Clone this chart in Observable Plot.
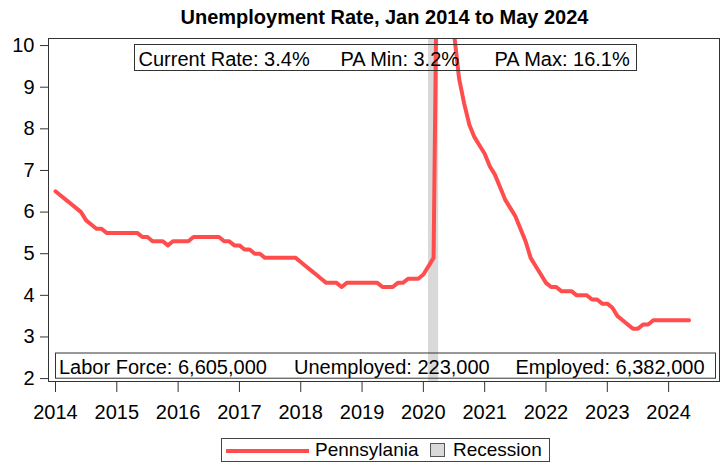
<!DOCTYPE html>
<html><head><meta charset="utf-8">
<script src="https://cdn.jsdelivr.net/npm/d3@7"></script>
<script src="https://cdn.jsdelivr.net/npm/@observablehq/plot@0.6"></script>
<style>
body{margin:0;background:#fff;font-family:"Liberation Sans",Arial,sans-serif;}
#wrap{position:relative;width:727px;height:466px;overflow:hidden;}
#title{position:absolute;left:0;top:0;width:685px;padding-left:42px;height:30px;line-height:30px;padding-top:2px;text-align:center;font-weight:bold;font-size:20px;color:#000;}
#chart{position:absolute;left:0;top:30px;}
#legend{position:absolute;left:221px;top:438px;width:327px;height:22px;border:1px solid #444;font-size:19px;color:#000;}
#legend .t{position:absolute;top:1px;line-height:19px;white-space:nowrap;}
</style></head><body>
<div id="wrap">
  <div id="title">Unemployment Rate, Jan 2014 to May 2024</div>
  <div id="chart"></div>
  <div id="legend">
    <div style="position:absolute;left:4px;top:10px;width:83px;height:4px;background:#ff4d4d"></div>
    <span class="t" style="left:93px">Pennsylania</span>
    <div style="position:absolute;left:208px;top:4px;width:13px;height:12px;background:#d9d9d9;border:1px solid #555"></div>
    <span class="t" style="left:231px">Recession</span>
  </div>
</div>
<script>
// Monthly unemployment rate (%), Pennsylvania, Jan 2014 - May 2024
const rate2014 = [6.5, 6.4, 6.3, 6.2, 6.1, 6.0, 5.8, 5.7, 5.6, 5.6, 5.5, 5.5];
const rate2015 = [5.5, 5.5, 5.5, 5.5, 5.5, 5.4, 5.4, 5.3, 5.3, 5.3, 5.2, 5.3];
const rate2016 = [5.3, 5.3, 5.3, 5.4, 5.4, 5.4, 5.4, 5.4, 5.4, 5.3, 5.3, 5.2];
const rate2017 = [5.2, 5.1, 5.1, 5.0, 5.0, 4.9, 4.9, 4.9, 4.9, 4.9, 4.9, 4.9];
const rate2018 = [4.8, 4.7, 4.6, 4.5, 4.4, 4.3, 4.3, 4.3, 4.2, 4.3, 4.3, 4.3];
const rate2019 = [4.3, 4.3, 4.3, 4.3, 4.2, 4.2, 4.2, 4.3, 4.3, 4.4, 4.4, 4.4];
const rate2020 = [4.5, 4.7, 4.9, 16.1, 13.5, 12.0, 10.3, 9.2, 8.6, 8.1, 7.8, 7.6];
const rate2021 = [7.4, 7.1, 6.9, 6.6, 6.3, 6.1, 5.9, 5.6, 5.3, 4.9, 4.7, 4.5];
const rate2022 = [4.3, 4.2, 4.2, 4.1, 4.1, 4.1, 4.0, 4.0, 4.0, 3.9, 3.9, 3.8];
const rate2023 = [3.8, 3.7, 3.5, 3.4, 3.3, 3.2, 3.2, 3.3, 3.3, 3.4, 3.4, 3.4];
const rate2024 = [3.4, 3.4, 3.4, 3.4, 3.4];
const years = [2014, 2015, 2016, 2017, 2018, 2019, 2020, 2021, 2022, 2023, 2024];
const yearRates = [rate2014, rate2015, rate2016, rate2017, rate2018, rate2019, rate2020, rate2021, rate2022, rate2023, rate2024];

// Recession (NBER): Feb 2020 - Apr 2020 as [year, month]
const recessionStart = [2020, 2];
const recessionEnd = [2020, 4];

const laborForce = 6605000;
const unemployed = 223000;
const employed = 6382000;

const xTicks = [2014, 2015, 2016, 2017, 2018, 2019, 2020, 2021, 2022, 2023, 2024];
const yTicks = [2, 3, 4, 5, 6, 7, 8, 9, 10];

// Build table
const series = [];
years.forEach((yr, i) => yearRates[i].forEach((v, m) => series.push({t: yr + m / 12, rate: v})));
const recessions = [{start: recessionStart[0] + (recessionStart[1] - 1) / 12, end: recessionEnd[0] + (recessionEnd[1] - 1) / 12}];

const current = series[series.length - 1].rate;
const paMin = d3.min(series, d => d.rate);
const paMax = d3.max(series, d => d.rate);
const fmt = d3.format(",");
const topStats = [`Current Rate: ${current.toFixed(1)}%`, `PA Min: ${paMin.toFixed(1)}%`, `PA Max: ${paMax.toFixed(1)}%`];
const bottomStats = [`Labor Force: ${fmt(laborForce)}`, `Unemployed: ${fmt(unemployed)}`, `Employed: ${fmt(employed)}`];

// layout
const topDx = [90, 292, 446];
const bottomDx = [10.5, 245.5, 467];
const fs = 20;

const lineColor = "#ff4d4d";
const textMarks = [];
topStats.forEach((s, i) => textMarks.push(Plot.text([s], {frameAnchor: "top-left", text: d => d, textAnchor: "start", lineAnchor: "top", dx: topDx[i], dy: 12.8, fontSize: fs, fill: "#000"})));
bottomStats.forEach((s, i) => textMarks.push(Plot.text([s], {frameAnchor: "bottom-left", text: d => d, textAnchor: "start", lineAnchor: "top", dx: bottomDx[i], dy: 373.2 - 0.71 * fs - 381, fontSize: fs, fill: "#000"})));

const chart = Plot.plot({
  width: 727,
  height: 400,
  marginTop: 8,
  marginBottom: 49,
  marginLeft: 48,
  marginRight: 8,
  style: {fontFamily: '"Liberation Sans", Arial, sans-serif', fontSize: "20px", color: "#000", background: "#fff"},
  x: {domain: [2013.886, 2024.83], label: null},
  y: {domain: [1.93, 10.17], label: null},
  marks: [
    Plot.rect(recessions, {x1: "start", x2: "end", fill: "#d9d9d9"}),
    Plot.line(series, {x: "t", y: "rate", stroke: lineColor, strokeWidth: 4, clip: true}),
    Plot.frame({stroke: "#333", insetLeft: 86, insetRight: 83, insetTop: 6, insetBottom: 311}),
    Plot.frame({stroke: "#333", insetLeft: 7, insetRight: 4, insetTop: 314.5, insetBottom: 3.3}),
    ...textMarks,
    Plot.frame({stroke: "#333"}),
    Plot.axisY({ticks: yTicks, tickSize: 8, tickPadding: 6, stroke: "#333", label: null}),
    Plot.axisX({ticks: xTicks, tickFormat: d => String(d), tickSize: 11, tickPadding: 12, stroke: "#333", label: null})
  ]
});
document.getElementById("chart").appendChild(chart);
</script>
</body></html>
